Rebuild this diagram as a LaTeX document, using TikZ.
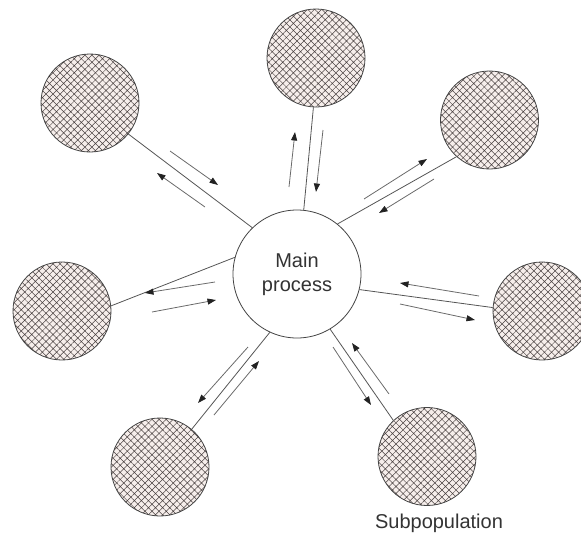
\documentclass[tikz,border=0pt]{standalone}
\usepackage{fontspec}
\setmainfont{Liberation Sans}
\usetikzlibrary{patterns.meta,arrows.meta}
\definecolor{hatchfill}{HTML}{F6EEEB}
\definecolor{hatchline}{HTML}{4A4242}
\definecolor{edgecol}{HTML}{444444}
\definecolor{linkcol}{HTML}{555555}
\definecolor{arrcol}{HTML}{6A6A6A}
\definecolor{tipcol}{HTML}{222222}
\definecolor{txtcol}{HTML}{333333}
\tikzset{
  subpop/.style={circle, minimum size=98pt, inner sep=0pt, draw=edgecol, line width=0.8pt,
    preaction={fill=hatchfill},
    pattern={Hatch[angle=45,distance=5pt,line width=0.5pt]}, pattern color=hatchline},
  mainproc/.style={circle, minimum size=128pt, inner sep=0pt, draw=edgecol, line width=0.8pt, fill=white,
    text=txtcol, align=center, font=\fontsize{20}{24}\selectfont},
  link/.style={draw=linkcol, line width=0.8pt},
  flow/.style={draw=arrcol, line width=0.8pt, -{Triangle[length=8.5pt,width=6pt,color=tipcol]}},
  lbl/.style={text=txtcol, font=\fontsize{20}{24}\selectfont, inner sep=0pt}
}
\begin{document}
\begin{tikzpicture}[x=1pt,y=-1pt]
\useasboundingbox (0,0) rectangle (581,536);
% nodes
\node[mainproc] (main) at (297,274) {Main\\process};
\node[subpop] (tl) at (90,103) {};
\node[subpop] (t)  at (316,58) {};
\node[subpop] (tr) at (489.5,120) {};
\node[subpop] (l)  at (62,311) {};
\node[subpop] (r)  at (542,311) {};
\node[subpop] (bl) at (160,467) {};
\node[subpop] (br) at (427,456.5) {};
\node[lbl, anchor=base] (lab) at (439,528.5) {Subpopulation};
% connectors
\draw[link] (tl.-39) -- (main.134);
\draw[link] (t.-93) -- (main.84);
\draw[link] (tr.228) -- (main.51);
\draw[link] (l.6) -- (main.165);
\draw[link] (r.176) -- (main.-14);
\draw[link] (bl.50) -- (main.245);
\draw[link] (br.133) -- (main.-59);
% flow arrows
\coordinate (tla1) at (170,151); \coordinate (tla2) at (218,185);
\coordinate (tlb1) at (205,207); \coordinate (tlb2) at (157,173);
\coordinate (ta1) at (289,187);  \coordinate (ta2) at (295,132);
\coordinate (tb1) at (323,130);  \coordinate (tb2) at (316,192);
\coordinate (tra1) at (364,199); \coordinate (tra2) at (427,159);
\coordinate (trb1) at (434,179); \coordinate (trb2) at (379,213);
\coordinate (la1) at (215,282);  \coordinate (la2) at (145,293);
\coordinate (lb1) at (152,312);  \coordinate (lb2) at (216,300);
\coordinate (ra1) at (479,296);  \coordinate (ra2) at (400,283);
\coordinate (rb1) at (400,304);  \coordinate (rb2) at (475,320);
\coordinate (bla1) at (248,347); \coordinate (bla2) at (198,403);
\coordinate (blb1) at (214,415); \coordinate (blb2) at (259,361);
\coordinate (bra1) at (333,347); \coordinate (bra2) at (371,405);
\coordinate (brb1) at (389,394); \coordinate (brb2) at (352,343);
\draw[flow] (tla1) -- (tla2);
\draw[flow] (tlb1) -- (tlb2);
\draw[flow] (ta1) -- (ta2);
\draw[flow] (tb1) -- (tb2);
\draw[flow] (tra1) -- (tra2);
\draw[flow] (trb1) -- (trb2);
\draw[flow] (la1) -- (la2);
\draw[flow] (lb1) -- (lb2);
\draw[flow] (ra1) -- (ra2);
\draw[flow] (rb1) -- (rb2);
\draw[flow] (bla1) -- (bla2);
\draw[flow] (blb1) -- (blb2);
\draw[flow] (bra1) -- (bra2);
\draw[flow] (brb1) -- (brb2);
\end{tikzpicture}
\end{document}
